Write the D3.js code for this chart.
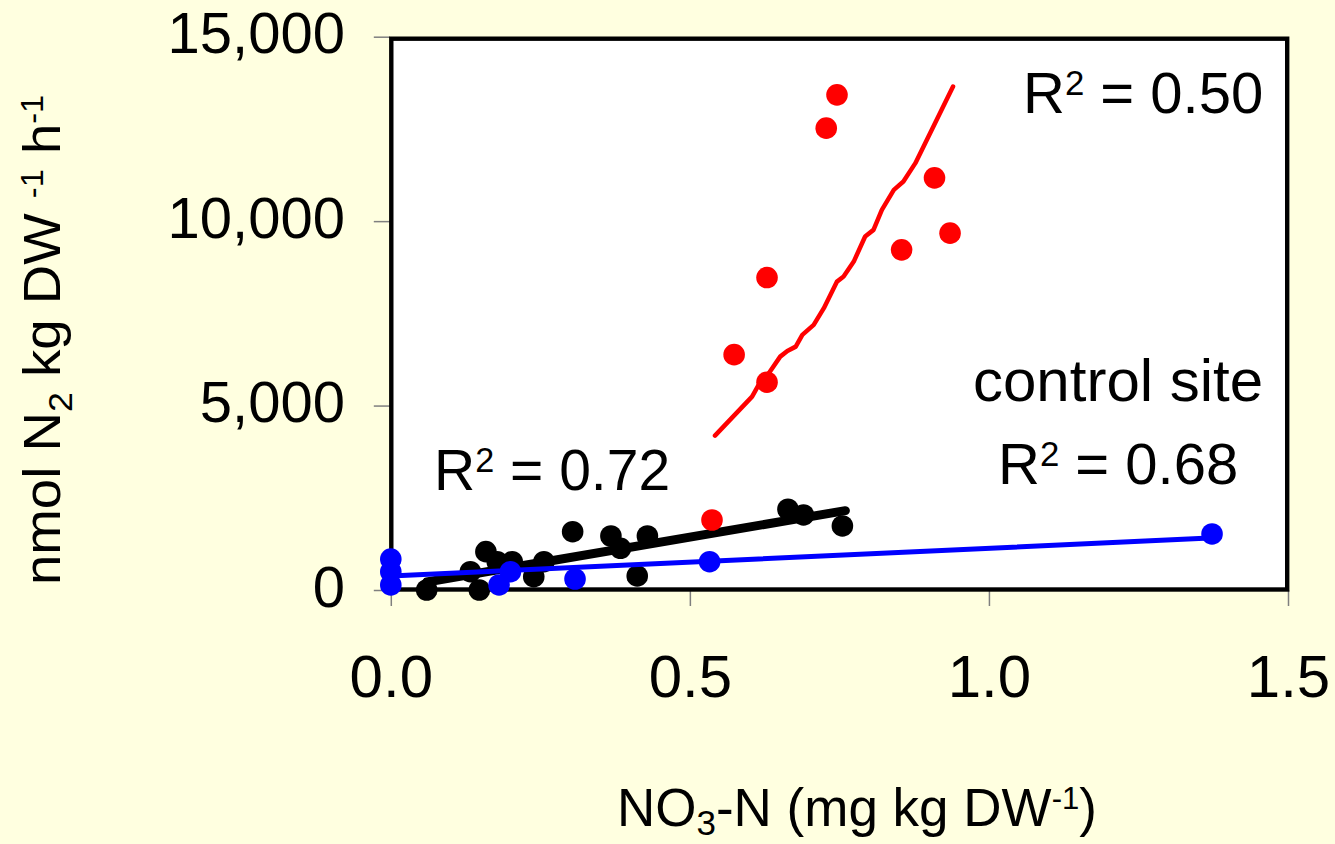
<!DOCTYPE html>
<html>
<head>
<meta charset="utf-8">
<script src="https://cdn.jsdelivr.net/npm/d3@7"></script>
<style>
  html, body { margin: 0; padding: 0; background: #FFFFE0; }
  svg { display: block; }
  text { font-family: "Liberation Sans", Arial, sans-serif; fill: #000; }
</style>
</head>
<body>
<svg id="chart" width="1335" height="844"></svg>
<script>
// ---- data ----
const xTicks = [0, 0.5, 1.0, 1.5];
const yTicks = [0, 5000, 10000, 15000];

// treated site (black)
const blackX = [0.060, 0.133, 0.148, 0.159, 0.178, 0.203, 0.239, 0.256, 0.304, 0.368, 0.384, 0.429, 0.412, 0.664, 0.690, 0.755];
const blackY = [0, 496, 0, 1039, 767, 767, 361, 767, 1581, 1464, 1131, 1464, 380, 2189, 2034, 1736];
const blackFitX = [0.060, 0.760];
const blackFitY = [217, 2151];

// red series
const redX = [0.746, 0.728, 0.909, 0.935, 0.854, 0.629, 0.574, 0.629, 0.537];
const redY = [13424, 12521, 11173, 9674, 9221, 8470, 6381, 5633, 1898];
const redFitX = [0.542, 0.604, 0.615, 0.632, 0.651, 0.663, 0.677, 0.688, 0.707, 0.724, 0.746, 0.757, 0.774, 0.793, 0.807, 0.821, 0.841, 0.857, 0.877, 0.940];
const redFitY = [4185, 5242, 5560, 5877, 6327, 6482, 6598, 6916, 7187, 7640, 8361, 8497, 8904, 9582, 9763, 10306, 10848, 11073, 11572, 13650];

// control site (blue)
const blueX = [0, 0, 0, 0.181, 0.200, 0.308, 0.533, 1.373];
const blueY = [840, 496, 136, 136, 496, 298, 767, 1519];
const blueFitX = [0, 1.360];
const blueFitY = [380, 1400];

// ---- layout ----
const svg = d3.select("#chart");
const W = 1335, H = 844;
const X = d3.scaleLinear().domain([0, 1.5]).range([390.8, 1288]);
const Y = d3.scaleLinear().domain([0, 15000]).range([590, 36.7]);

svg.append("rect").attr("width", W).attr("height", H).attr("fill", "#FFFFE0");

// axes (tick marks outside the frame)
const xAxis = d3.axisBottom(X).tickValues(xTicks).tickFormat(d3.format(".1f")).tickSize(16).tickPadding(0);
const yAxis = d3.axisLeft(Y).tickValues(yTicks).tickFormat(d3.format(",")).tickSize(16).tickPadding(0);

const gx = svg.append("g").attr("transform", `translate(0,${Y(0)})`).call(xAxis);
gx.select(".domain").remove();
gx.selectAll(".tick line").attr("stroke", "#7f7f7f").attr("stroke-width", 1.5);
gx.selectAll(".tick text")
  .attr("y", 107).attr("dy", null)
  .style("font-size", "60px")
  .style("font-family", '"Liberation Sans", Arial, sans-serif')
  .attr("fill", "#000");

const gy = svg.append("g").attr("transform", `translate(${X(0) - 1},0)`).call(yAxis);
gy.select(".domain").remove();
gy.selectAll(".tick line").attr("stroke", "#7f7f7f").attr("stroke-width", 1.5);
gy.selectAll(".tick text")
  .attr("x", -(X(0) - 1 - 345)).attr("dy", null).attr("y", 16)
  .attr("text-anchor", "end")
  .style("font-size", "58px")
  .style("font-family", '"Liberation Sans", Arial, sans-serif')
  .attr("fill", "#000");

// plot frame
svg.append("rect")
  .attr("x", X(0) + 0.5).attr("y", Y(15000) + 2)
  .attr("width", X(1.5) - X(0) - 1.3).attr("height", Y(0) - Y(15000) - 2.5)
  .attr("fill", "#fff").attr("stroke", "#000").attr("stroke-width", 4.4);

const plot = svg.append("g");
const line = d3.line().x(d => X(d[0])).y(d => Y(d[1]));
const zip = (a, b) => a.map((v, i) => [v, b[i]]);

function dots(xs, ys, color) {
  plot.append("g").selectAll("circle").data(zip(xs, ys)).join("circle")
    .attr("cx", d => X(d[0])).attr("cy", d => Y(d[1])).attr("r", 10.8).attr("fill", color);
}
function fit(xs, ys, color, w) {
  plot.append("path").datum(zip(xs, ys)).attr("d", line)
    .attr("fill", "none").attr("stroke", color).attr("stroke-width", w)
    .attr("stroke-linecap", "round").attr("stroke-linejoin", "round");
}

dots(blackX, blackY, "#000");
fit(blackFitX, blackFitY, "#000", 9);
dots(redX, redY, "#ff0000");
fit(redFitX, redFitY, "#ff0000", 4.5);
dots(blueX, blueY, "#0000ff");
fit(blueFitX, blueFitY, "#0000ff", 5);

// annotations
function r2(x, y, val, size) {
  const t = svg.append("text").attr("x", x).attr("y", y).style("font-size", size + "px");
  t.append("tspan").text("R");
  t.append("tspan").attr("dy", -18).style("font-size", (size * 0.6) + "px").text("2");
  t.append("tspan").attr("dy", 18).text(" = " + val);
}
r2(1023, 113, "0.50", 58);
r2(998, 484, "0.68", 58);
r2(434, 490, "0.72", 57);
svg.append("text").attr("x", 973).attr("y", 401).style("font-size", "60px").text("control site");

// x axis title
const xt = svg.append("text").attr("x", 617).attr("y", 826).style("font-size", "53px");
xt.append("tspan").text("NO");
xt.append("tspan").attr("dy", 9).style("font-size", "35px").text("3");
xt.append("tspan").attr("dy", -9).text("-N (mg kg DW");
xt.append("tspan").attr("dy", -17).style("font-size", "31px").text("-1");
xt.append("tspan").attr("dy", 17).text(")");

// y axis title
const yt = svg.append("text").attr("transform", "translate(60,585) rotate(-90) scale(1.05,1)").style("font-size", "52px");
yt.append("tspan").text("nmol N");
yt.append("tspan").attr("dy", 12).style("font-size", "34px").text("2");
yt.append("tspan").attr("dy", -12).text(" kg DW ");
yt.append("tspan").attr("dy", -17).style("font-size", "31px").text("-1");
yt.append("tspan").attr("dy", 17).text(" h");
yt.append("tspan").attr("dy", -17).style("font-size", "31px").text("-1");
</script>
</body>
</html>
